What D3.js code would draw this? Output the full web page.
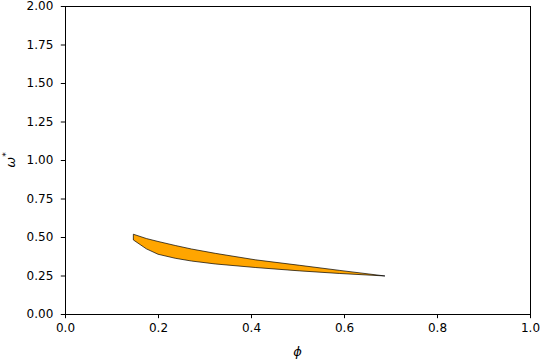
<!DOCTYPE html>
<html>
<head>
<meta charset="utf-8">
<script src="https://cdn.jsdelivr.net/npm/d3@7"></script>
<style>
body{margin:0;background:#fff;}
svg{display:block;}
</style>
</head>
<body>
<div id="chart"></div>
<script>
// phi values shared by both edges of the band
var phi=[0.147,0.175,0.2,0.237,0.272,0.323,0.409,0.505,0.591,0.688];
var omegaUpper=[0.518,0.490,0.471,0.445,0.422,0.394,0.352,0.316,0.283,0.247];
var omegaLower=[0.481,0.423,0.388,0.362,0.344,0.325,0.302,0.280,0.263,0.247];
var xTicks=[0,0.2,0.4,0.6,0.8,1.0];
var yTicks=[0,0.25,0.5,0.75,1.0,1.25,1.5,1.75,2.0];

var W=540,H=360,
	L=65,R=530,T=6,B=314,
	tickLen=4.2,fs=12;

var svg=d3.select('#chart').append('svg').attr('width',W).attr('height',H)
	.attr('font-family','DejaVu Sans').attr('font-size',fs);

var x=d3.scaleLinear().domain([0,1]).range([L,R]);
var y=d3.scaleLinear().domain([0,2]).range([B,T]);

var rows=phi.map(function(p,i){return {p:p,hi:omegaUpper[i],lo:omegaLower[i]};});

var area=d3.area()
	.x(function(d){return x(d.p);})
	.y0(function(d){return y(d.lo);})
	.y1(function(d){return y(d.hi);});

svg.append('path').datum(rows).attr('d',area(rows)+'Z')
	.attr('fill','#ffa500').attr('stroke','#000').attr('stroke-width',0.7)
	.attr('stroke-linejoin','round');

// axes, matplotlib look
var xAxis=d3.axisBottom(x).tickValues(xTicks).tickSize(tickLen).tickPadding(5.5)
	.tickFormat(d3.format('.1f'));
var yAxis=d3.axisLeft(y).tickValues(yTicks).tickSize(tickLen).tickPadding(7.5)
	.tickFormat(d3.format('.2f'));

var gx=svg.append('g').attr('transform','translate(0,'+B+')').call(xAxis);
var gy=svg.append('g').attr('transform','translate('+L+',0)').call(yAxis);
[gx,gy].forEach(function(g){
	g.select('.domain').remove();
	g.selectAll('line').attr('stroke','#000').attr('stroke-width',1);
	g.selectAll('text').attr('fill','#000').attr('font-family','DejaVu Sans').attr('font-size',fs);
});

// frame
svg.append('rect').attr('x',L).attr('y',T).attr('width',R-L).attr('height',B-T)
	.attr('fill','none').attr('stroke','#000').attr('stroke-width',1)
	.attr('shape-rendering','crispEdges');

// axis labels
svg.append('text').attr('x',(L+R)/2).attr('y',356).attr('text-anchor','middle')
	.attr('font-family','DejaVu Sans').attr('font-style','italic').attr('font-size',13)
	.text('ϕ');

var yl=svg.append('text').attr('transform','translate(15,'+((T+B)/2)+') rotate(-90)')
	.attr('text-anchor','middle').attr('font-family','DejaVu Sans').attr('font-size',13);
yl.append('tspan').attr('font-style','italic').text('ω');
yl.append('tspan').attr('font-size',9).attr('dy',-6).text('*');
</script>
</body>
</html>
